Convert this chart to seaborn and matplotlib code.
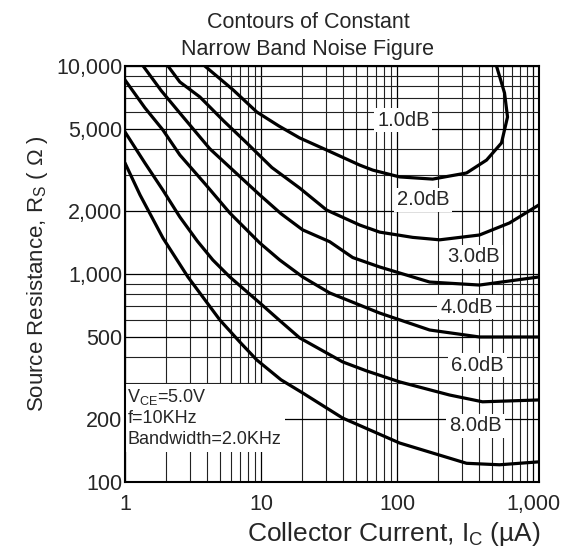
import numpy as np
import pandas as pd
import seaborn as sns
import matplotlib.pyplot as plt
from matplotlib.ticker import FixedLocator, FixedFormatter, LogLocator, NullFormatter
from matplotlib.patches import Rectangle

# contours: collector current (uA) vs source resistance (ohm)
ic_1db = [3.86, 6.2, 9.3, 13.5, 19.2, 30.3, 53, 66, 104, 182, 323, 453, 583, 646, 614, 536]
rs_1db = [10000, 7700, 6010, 5150, 4510, 3945, 3340, 3160, 2930, 2860, 3060, 3530, 4265, 5690, 7420, 10000]

ic_2db = [2.07, 2.53, 3.55, 5.3, 7.85, 12.0, 19.2, 30.3, 53, 74.3, 130, 205, 402, 668, 1100]
rs_2db = [10000, 8380, 7100, 5450, 4265, 3250, 2590, 2030, 1720, 1590, 1500, 1460, 1540, 1760, 2150]

ic_3db = [1.36, 1.85, 2.53, 4.2, 7.85, 9.78, 14.0, 20.2, 31.9, 47.1, 74.3, 173, 402, 1100]
rs_3db = [10000, 7600, 5940, 4000, 2740, 2400, 1950, 1630, 1430, 1200, 1081, 915, 885, 968]

ic_4db = [1.0, 1.4, 1.9, 2.53, 3.9, 5.89, 9.78, 13.7, 20.2, 31.9, 74.3, 173, 402, 1100]
rs_4db = [8570, 6300, 4925, 3735, 2700, 1965, 1410, 1168, 968, 811, 649, 538, 498, 498]

ic_6db = [1.0, 1.4, 1.9, 2.53, 3.4, 4.42, 5.89, 9.78, 14.0, 19.2, 39.7, 59.6, 104, 242, 423, 1100]
rs_6db = [4820, 3420, 2530, 1880, 1440, 1168, 968, 726, 590, 493, 378, 342, 303, 262, 243, 248]

ic_8db = [1.0, 1.29, 1.9, 2.9, 4.98, 7.0, 9.3, 14.0, 20.2, 39.7, 104, 323, 564, 1100]
rs_8db = [3420, 2400, 1490, 968, 601, 470, 386, 310, 268, 203, 154, 123, 121, 125]

curve_names = ['1.0dB', '2.0dB', '3.0dB', '4.0dB', '6.0dB', '8.0dB']
label_ic = [111, 154, 364, 323, 389, 376]
label_rs = [5500, 2270, 1208, 693, 365, 186]

x_ticks = [1, 10, 100, 1000]
x_ticklabels = ['1', '10', '100', '1,000']
y_ticks = [100, 200, 500, 1000, 2000, 5000, 10000]
y_ticklabels = ['100', '200', '500', '1,000', '2,000', '5,000', '10,000']

# long form table for seaborn
frames = []
for name, xs, ys in zip(curve_names,
                        [ic_1db, ic_2db, ic_3db, ic_4db, ic_6db, ic_8db],
                        [rs_1db, rs_2db, rs_3db, rs_4db, rs_6db, rs_8db]):
    frames.append(pd.DataFrame({'ic': xs, 'rs': ys, 'nf': name}))
df = pd.concat(frames, ignore_index=True)

sns.set_style('white')
plt.rcParams['font.family'] = ['Liberation Sans', 'DejaVu Sans']
plt.rcParams['mathtext.fontset'] = 'custom'
plt.rcParams['mathtext.rm'] = 'Liberation Sans'
plt.rcParams['mathtext.it'] = 'Liberation Sans:italic'

fig = plt.figure(figsize=(5.66, 5.6), dpi=100)
ax = fig.add_axes([0.2208, 0.1393, 0.7315, 0.7428])

sns.lineplot(data=df, x='ic', y='rs', units='nf', estimator=None, sort=False,
             color='black', linewidth=2.3, ax=ax, zorder=2)

ax.set_xscale('log')
ax.set_yscale('log')
ax.set_xlim(1, 1100)
ax.set_ylim(100, 10000)

ax.xaxis.set_major_locator(FixedLocator(x_ticks))
ax.xaxis.set_major_formatter(FixedFormatter(x_ticklabels))
ax.yaxis.set_major_locator(FixedLocator(y_ticks))
ax.yaxis.set_major_formatter(FixedFormatter(y_ticklabels))
ax.xaxis.set_minor_locator(LogLocator(base=10, subs=np.arange(2, 10), numticks=20))
ax.yaxis.set_minor_locator(LogLocator(base=10, subs=np.arange(2, 10), numticks=20))
ax.xaxis.set_minor_formatter(NullFormatter())
ax.yaxis.set_minor_formatter(NullFormatter())
ax.tick_params(which='both', length=0)
ax.tick_params(axis='x', pad=9, labelsize=15.5)
ax.tick_params(axis='y', pad=2, labelsize=15.5)

ax.grid(True, which='major', color='black', linewidth=0.9)
ax.grid(True, which='minor', color='#222222', linewidth=0.8)
ax.set_axisbelow(True)
for s in ax.spines.values():
    s.set_color('black')
    s.set_linewidth(1.5)

ax.set_title('Contours of Constant\nNarrow Band Noise Figure', fontsize=15.5, pad=8,
             x=0.442, linespacing=1.35)
ax.set_xlabel('Collector Current, I$_\\mathrm{C}$ (µA)', fontsize=19)
ax.xaxis.set_label_coords(0.649, -0.092)
ax.set_ylabel('Source Resistance, R$_\\mathrm{S}$ ( Ω )', fontsize=16)

# curve labels
for name, lx, ly in zip(curve_names, label_ic, label_rs):
    ax.text(lx, ly, name, ha='center', va='center', fontsize=14.5, zorder=3,
            bbox=dict(facecolor='white', edgecolor='none', pad=2))

# conditions box
ax.add_patch(Rectangle((0, 0.072), 0.386, 0.163, transform=ax.transAxes,
                       facecolor='white', edgecolor='none', zorder=1))
ax.text(0.006, 0.228, 'V$_\\mathrm{CE}$=5.0V\nf=10KHz\nBandwidth=2.0KHz',
        transform=ax.transAxes, ha='left', va='top', fontsize=13,
        linespacing=1.25, zorder=3)

fig.savefig('out.png', dpi=100)
